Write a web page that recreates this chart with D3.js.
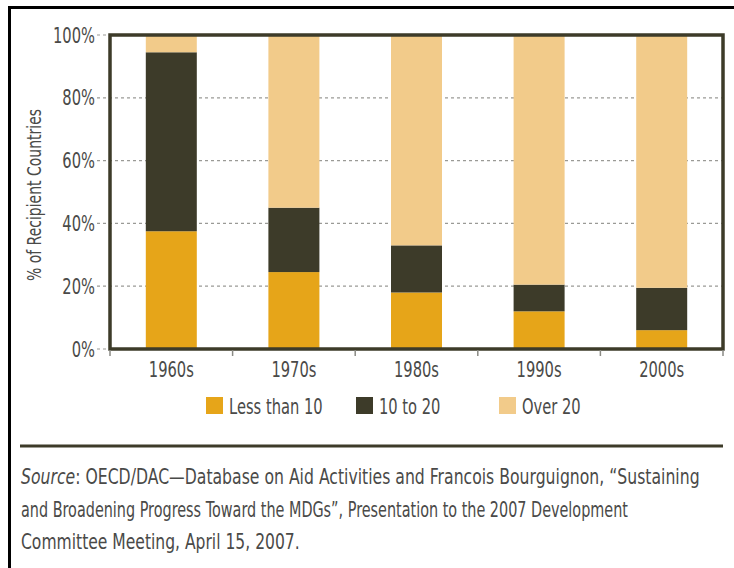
<!DOCTYPE html>
<html lang="en">
<head>
<meta charset="utf-8">
<title>% of Recipient Countries by decade</title>
<script src="https://d3js.org/d3.v7.min.js"></script>
<style>
  body { margin: 0; background: #fff; }
  svg text { font-family: "DejaVu Sans", sans-serif; fill: #4a4a48; }
</style>
</head>
<body>
<div id="chart"></div>
<script>
// data
var decades = ["1960s", "1970s", "1980s", "1990s", "2000s"];
var lessThan10 = [37.5, 24.5, 18, 12, 6];
var tenTo20 = [57, 20.5, 15, 8.5, 13.5];
var over20 = [5.5, 55, 67, 79.5, 80.5];
var seriesNames = ["Less than 10", "10 to 20", "Over 20"];
var seriesColors = ["#E6A519", "#3D3B29", "#F2CB8A"];
var yTicks = [0, 20, 40, 60, 80, 100];
var sourceLines = [
  ["Source", ": OECD/DAC\u2014Database on Aid Activities and Francois Bourguignon, \u201cSustaining"],
  ["", "and Broadening Progress Toward the MDGs\u201d, Presentation to the 2007 Development"],
  ["", "Committee Meeting, April 15, 2007."]
];
var sourceWidths = [679, 607, 279];

var width = 734, height = 568;
var frameColor = "#3D3B29";
var SX = 0.7; // squeeze the font to look like the condensed original

function place(x, y, rot, sx) {
  return "translate(" + x + "," + y + ")" + (rot ? " rotate(" + rot + ")" : "") +
    " scale(" + (sx || SX) + ",1)";
}

var svg = d3.select("#chart").append("svg")
  .attr("width", width)
  .attr("height", height);

// outer page border (left + top)
svg.append("line").attr("x1", 9.5).attr("x2", 9.5).attr("y1", 6).attr("y2", height)
  .attr("stroke", "#000").attr("stroke-width", 3);
svg.append("line").attr("x1", 8).attr("x2", width).attr("y1", 7.5).attr("y2", 7.5)
  .attr("stroke", "#000").attr("stroke-width", 3);

var x = d3.scaleBand().domain(decades).range([110, 723])
  .paddingInner(0.584).paddingOuter(0.292);
var y = d3.scaleLinear().domain([0, 100]).range([349, 35]);

// build stack table from the arrays
var table = decades.map(function(d, i) {
  return { decade: d, a: lessThan10[i], b: tenTo20[i], c: over20[i] };
});
var stack = d3.stack().keys(["a", "b", "c"])(table);

// dashed gridlines
svg.append("g").selectAll("line")
  .data(yTicks.filter(function(t) { return t > 0; }))
  .enter().append("line")
  .attr("x1", 97).attr("x2", 723)
  .attr("y1", function(d) { return y(d); })
  .attr("y2", function(d) { return y(d); })
  .attr("stroke", "#9a9a96")
  .attr("stroke-width", 1.2)
  .attr("stroke-dasharray", "3,3");
// little dashed tick at 0%
svg.append("line").attr("x1", 97).attr("x2", 110)
  .attr("y1", y(0)).attr("y2", y(0))
  .attr("stroke", "#9a9a96").attr("stroke-width", 1.2).attr("stroke-dasharray", "3,3");

// bars
svg.append("g").selectAll("g")
  .data(stack)
  .enter().append("g")
  .attr("fill", function(d, i) { return seriesColors[i]; })
  .selectAll("rect")
  .data(function(d) { return d; })
  .enter().append("rect")
  .attr("x", function(d) { return x(d.data.decade); })
  .attr("width", x.bandwidth())
  .attr("y", function(d) { return y(d[1]); })
  .attr("height", function(d) { return y(d[0]) - y(d[1]); });

// plot frame
svg.append("rect")
  .attr("x", 110).attr("y", y(100))
  .attr("width", 723 - 110).attr("height", y(0) - y(100))
  .attr("fill", "none").attr("stroke", frameColor).attr("stroke-width", 3.5);

// y tick labels
svg.append("g").selectAll("text")
  .data(yTicks)
  .enter().append("text")
  .attr("transform", function(d) { return place(95, y(d)); })
  .attr("dy", "0.36em")
  .attr("text-anchor", "end")
  .style("font-size", "21px")
  .text(function(d) { return d + "%"; });

// x axis ticks at band boundaries
var bounds = decades.map(function(d) { return x(d) - x.step() * x.paddingOuter(); });
bounds.push(723);
svg.append("g").selectAll("line")
  .data(bounds)
  .enter().append("line")
  .attr("x1", function(d) { return d; }).attr("x2", function(d) { return d; })
  .attr("y1", 350).attr("y2", 356)
  .attr("stroke", "#8a8a84").attr("stroke-width", 1.5);

// x labels
svg.append("g").selectAll("text")
  .data(decades)
  .enter().append("text")
  .attr("transform", function(d) { return place(x(d) + x.bandwidth() / 2, 377); })
  .attr("text-anchor", "middle")
  .style("font-size", "21px")
  .text(function(d) { return d; });

// y axis title
svg.append("text")
  .attr("transform", place(41, 195, -90))
  .attr("text-anchor", "middle")
  .style("font-size", "20px")
  .text("% of Recipient Countries");

// legend
var legendX = [206, 356, 499];
var legend = svg.append("g").selectAll("g")
  .data(seriesNames)
  .enter().append("g")
  .attr("transform", function(d, i) { return "translate(" + legendX[i] + ",397)"; });
legend.append("rect")
  .attr("width", 17).attr("height", 17)
  .attr("fill", function(d, i) { return seriesColors[i]; });
legend.append("text")
  .attr("transform", place(23, 17))
  .style("font-size", "21px")
  .text(function(d) { return d; });

// separator
svg.append("line").attr("x1", 20).attr("x2", 723).attr("y1", 446).attr("y2", 446)
  .attr("stroke", frameColor).attr("stroke-width", 3);

// source note: each line squeezed to the width it has in the original
var srcG = svg.append("g");
sourceLines.forEach(function(line, i) {
  var yy = 484 + i * 32.5;
  var it = srcG.append("text").style("font-size", "21px").style("font-style", "italic").text(line[0]);
  var rest = srcG.append("text").style("font-size", "21px").text(line[1]);
  var w0 = line[0] ? it.node().getComputedTextLength() : 0;
  var w1 = rest.node().getComputedTextLength();
  var s = sourceWidths[i] / (w0 + w1);
  it.attr("transform", place(21, yy, 0, s));
  rest.attr("transform", place(21 + w0 * s, yy, 0, s));
});
</script>
</body>
</html>
